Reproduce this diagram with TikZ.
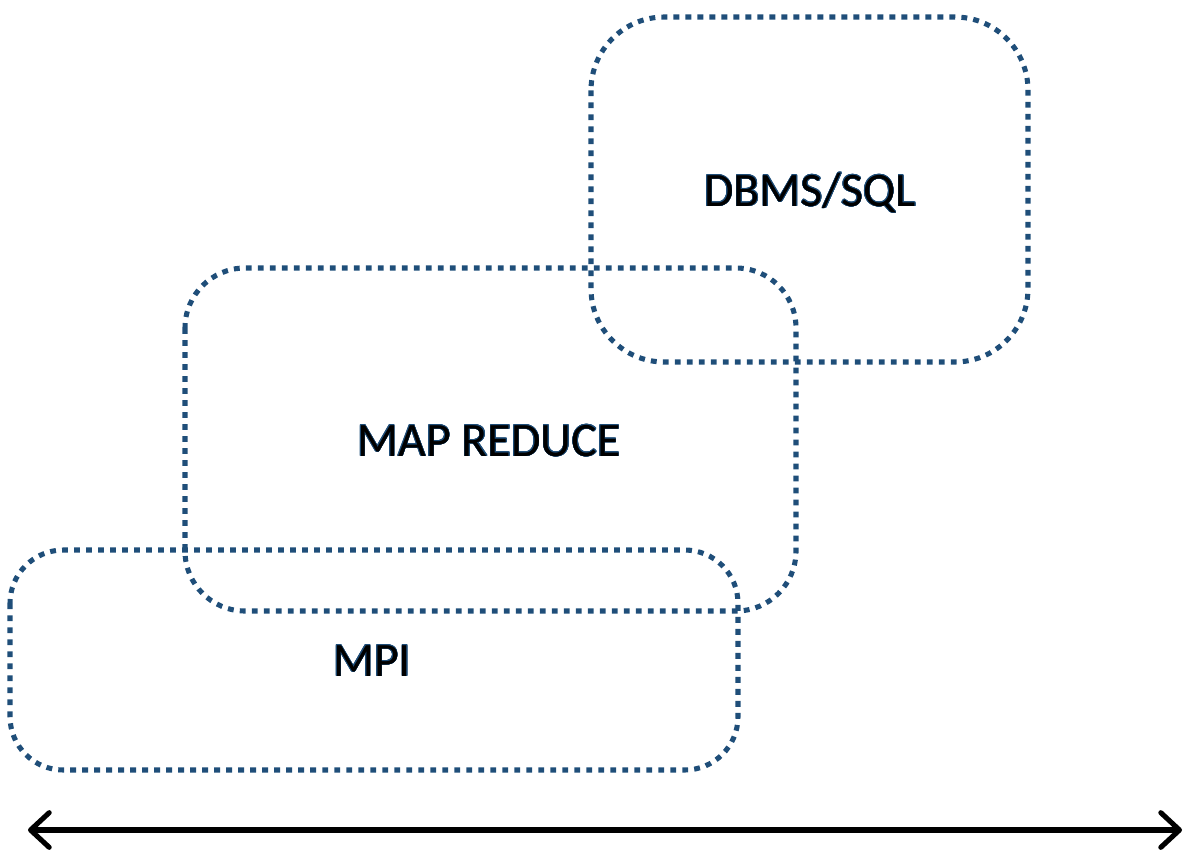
\documentclass[tikz,border=0pt]{standalone}
\usepackage{fontspec}
\setmainfont{Carlito}
\usepackage{contour}
\usetikzlibrary{arrows.meta}
\definecolor{boxblue}{HTML}{1F4E79}
\contourlength{0.4pt}
\tikzset{
  dotbox/.style={draw=boxblue, line width=3.8pt, dash pattern=on 4.4pt off 4.6pt},
  boxlabel/.style={font=\fontsize{36}{42}\selectfont, text=black}
}

\begin{document}
\begin{tikzpicture}[x=0.75pt, y=-0.75pt]
\useasboundingbox (0,0) rectangle (1191,857);
%boxes
\draw[dotbox, rounded corners=55] (591,17) rectangle (1028,362);
\draw[dotbox, rounded corners=45] (185,268) rectangle (796,611);
\draw[dotbox, rounded corners=40] (10,550) rectangle (738,770);
%labels
\node[boxlabel] (dbms) at (810,193) {\contour{boxblue}{DBMS/SQL}};
\node[boxlabel] (mapred) at (489,441) {\contour{boxblue}{MAP REDUCE}};
\node[boxlabel] (mpi) at (372,661) {\contour{boxblue}{MPI}};
%axis
\coordinate (left) at (28,830);
\coordinate (right) at (1182,830);
\draw[line width=3.8pt, {Straight Barb[length=14pt, width=26pt, round]}-{Straight Barb[length=14pt, width=26pt, round]}] (left) -- (right);
\end{tikzpicture}
\end{document}
